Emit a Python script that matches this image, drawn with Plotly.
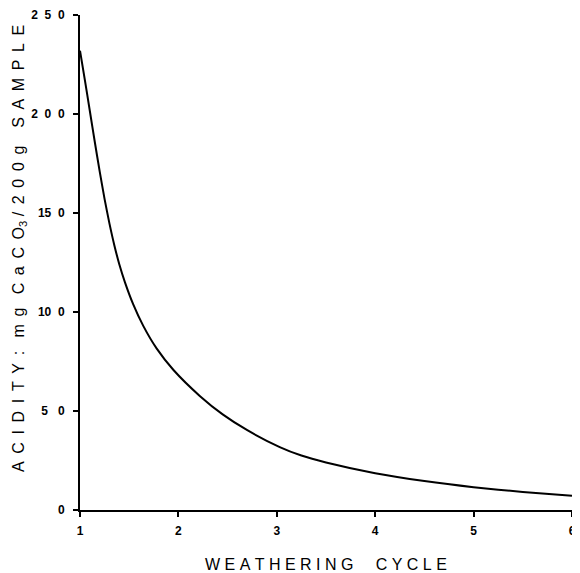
import plotly.graph_objects as go

NB = "\u00a0"
TH = "\u2009"

cycle = [1.0, 1.05, 1.10, 1.15, 1.20, 1.25, 1.30, 1.35, 1.40, 1.457, 1.54, 1.643, 1.78, 1.95, 2.22,
         2.45, 2.70, 3.03, 3.25, 3.5, 4.0, 4.5, 5.0, 5.5, 6.0]
acidity = [232, 217, 201.5, 186, 171, 157, 144.5, 133.5, 124, 115, 104, 93, 81.5, 70.7, 57.5,
           48.3, 40.3, 31.8, 27.5, 24, 18.6, 14.6, 11.5, 9.1, 7.2]

x_ticks = [1, 2, 3, 4, 5, 6]
x_tick_text = ["1", "2", "3", "4", "5", "6"]
y_ticks = [0, 50, 100, 150, 200, 250]
y_tick_text = ["0", "5" + NB * 3 + "0", "10" + NB * 2 + "0", "15" + NB * 2 + "0",
               "2" + NB * 2 + "0" + NB * 2 + "0", "2" + NB * 2 + "5" + NB * 2 + "0"]


def spaced(word, gap=NB + TH):
    return gap.join(word)


x_title = NB.join("WEATHERING") + NB * 5 + NB.join("CYCLE")
y_title = (spaced("ACIDITY:") + NB * 3 + spaced("mg") + NB * 3
           + spaced("CaCO") + "<sub>3</sub>" + NB + spaced("/200g") + NB * 4 + spaced("SAMPLE"))

fig = go.Figure()
fig.add_trace(go.Scatter(x=cycle, y=acidity, mode="lines",
                         line=dict(color="black", width=2, shape="spline", smoothing=0.6),
                         showlegend=False, hoverinfo="skip"))

FAM = "Liberation Sans, Arial, sans-serif"
tickfont = dict(family=FAM, size=12, color="black", weight="bold")

# page body has an 8px margin; figure is sized so that it fits the 580x573 window
W, H = 572, 565
L, R, T, B = 72, 8, 7, 63
pw, ph = W - L - R, H - T - B

fig.update_layout(
    width=W, height=H,
    margin=dict(l=L, r=R, t=T, b=B, autoexpand=False),
    paper_bgcolor="white", plot_bgcolor="white",
    font=dict(family=FAM, size=12, color="black"),
    xaxis=dict(range=[1, 6], tickvals=x_ticks, ticktext=x_tick_text,
               showgrid=False, zeroline=False, showline=True, linecolor="black", linewidth=2,
               ticks="outside", ticklen=5, tickwidth=1.5, tickcolor="black",
               ticklabelstandoff=4, ticklabeloverflow="allow", tickfont=tickfont),
    yaxis=dict(range=[0, 250], tickvals=y_ticks, ticktext=y_tick_text,
               showgrid=False, zeroline=False, showline=True, linecolor="black", linewidth=2,
               ticks="outside", ticklen=5, tickwidth=1.5, tickcolor="black",
               ticklabelstandoff=6, ticklabeloverflow="allow", tickfont=tickfont),
)

fig.add_annotation(text=x_title, xref="paper", yref="paper",
                   x=(318 - L) / pw, y=-(556 - (T + ph)) / ph, showarrow=False,
                   xanchor="center", yanchor="middle",
                   font=dict(family=FAM, size=16, color="black"))
fig.add_annotation(text=y_title, xref="paper", yref="paper",
                   x=(11 - L) / pw, y=((T + ph) - 241) / ph,
                   showarrow=False, textangle=-90, xanchor="center", yanchor="middle",
                   font=dict(family=FAM, size=16, color="black"))

fig.write_html("out.html")
